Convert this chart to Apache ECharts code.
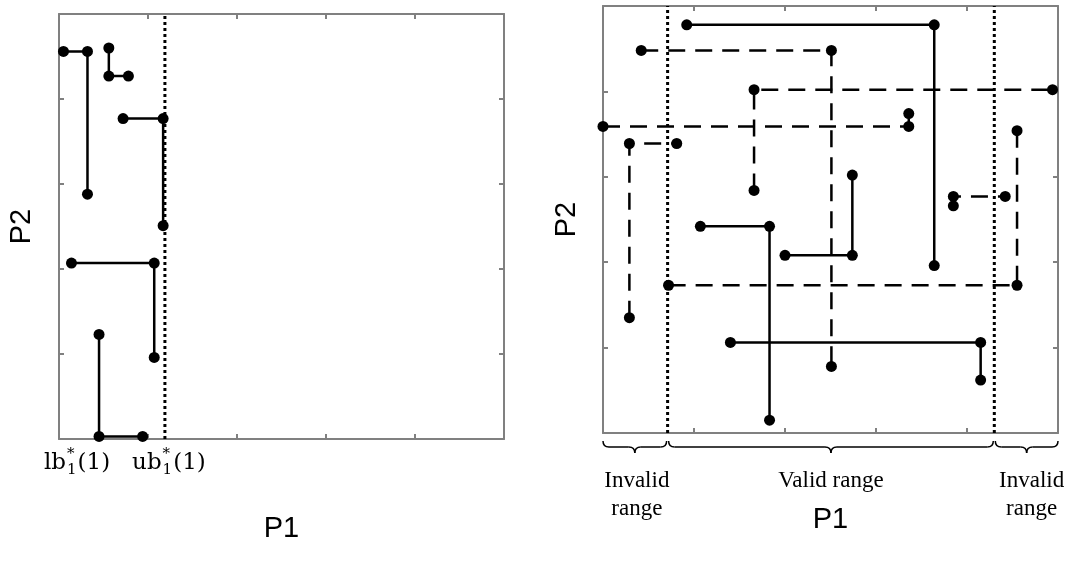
<!DOCTYPE html>
<html>
<head>
<meta charset="utf-8">
<script src="https://cdn.jsdelivr.net/npm/echarts@6/dist/echarts.min.js"></script>
<style>
  html, body { margin: 0; padding: 0; background: #ffffff; }
  #chart { width: 1068px; height: 564px; }
</style>
</head>
<body>
<div id="chart"></div>
<script>
// Both panels share the same normalised P1/P2 range with unit ticks
const axisMin = 0;
const axisMax = 5;
const axisStep = 1;

// Left panel: L-shaped links between points (solid)
const leftPaths = [
  [[0.05, 4.56], [0.32, 4.56], [0.32, 2.88]],
  [[0.56, 4.60], [0.56, 4.27], [0.78, 4.27]],
  [[0.72, 3.77], [1.17, 3.77], [1.17, 2.51]],
  [[0.14, 2.07], [1.07, 2.07], [1.07, 0.96]],
  [[0.45, 1.23], [0.45, 0.03], [0.94, 0.03]]
];
// Upper bound ub*_1(1) on P1 in the left panel
const leftUpperBound = 1.19;

// Right panel: solid L-shaped links
const rightSolidPaths = [
  [[0.92, 4.78], [3.64, 4.78], [3.64, 1.96]],
  [[1.07, 2.42], [1.83, 2.42], [1.83, 0.15]],
  [[2.74, 3.02], [2.74, 2.08], [2.00, 2.08]],
  [[1.40, 1.06], [4.15, 1.06], [4.15, 0.62]]
];
// Right panel: dashed L-shaped links
const rightDashedPaths = [
  [[0.42, 4.48], [2.51, 4.48], [2.51, 0.78]],
  [[1.66, 2.84], [1.66, 4.02], [4.94, 4.02]],
  [[0.00, 3.59], [3.36, 3.59], [3.36, 3.74]],
  [[0.29, 1.35], [0.29, 3.39], [0.81, 3.39]],
  [[4.55, 3.54], [4.55, 1.73], [0.72, 1.73]],
  [[3.85, 2.66], [3.85, 2.77], [4.42, 2.77]]
];
// Lower / upper bounds of the valid P1 range in the right panel
const rightBounds = [0.71, 4.30];

// Text drawn under the axes
const rangeLabels = ['Invalid\nrange', 'Valid range', 'Invalid\nrange'];
const boundPrefixes = ['lb', 'ub'];
const axisNames = { x: 'P1', y: 'P2' };

const GRAY = '#808080';
const SERIF = '"Liberation Serif", "DejaVu Serif", serif';
const MATH = '"DejaVu Serif", "Liberation Serif", serif';
const SANS = '"Liberation Sans", Arial, sans-serif';

const chart = echarts.init(document.getElementById('chart'), null, { renderer: 'canvas' });

function frameAxis(gridIndex, position, withName) {
  const isX = position === 'bottom' || position === 'top';
  const axis = {
    type: 'value',
    gridIndex: gridIndex,
    position: position,
    min: axisMin,
    max: axisMax,
    interval: axisStep,
    axisLine: { show: true, onZero: false, lineStyle: { color: GRAY, width: 2 } },
    axisTick: { show: true, inside: true, length: 5, lineStyle: { color: GRAY, width: 2 } },
    axisLabel: { show: false },
    splitLine: { show: false }
  };
  if (withName) {
    axis.name = isX ? axisNames.x : axisNames.y;
    axis.nameLocation = 'middle';
    axis.nameTextStyle = { fontFamily: SANS, fontSize: 29, color: '#000' };
    if (isX) {
      axis.nameGap = gridIndex === 0 ? 75 : 72;
    } else {
      axis.nameGap = gridIndex === 0 ? 23 : 22;
      axis.nameRotate = 90;
    }
  }
  return axis;
}

function pathSeries(points, gridIndex, dashed) {
  return {
    type: 'line',
    xAxisIndex: gridIndex * 2,
    yAxisIndex: gridIndex * 2,
    data: points,
    clip: false,
    silent: true,
    symbol: 'circle',
    symbolSize: 11,
    showAllSymbol: true,
    itemStyle: { color: '#000' },
    lineStyle: { color: '#000', width: 2.5, type: dashed ? [17, 10] : 'solid' },
    z: 3
  };
}

function boundSeries(x, gridIndex) {
  return {
    type: 'line',
    xAxisIndex: gridIndex * 2,
    yAxisIndex: gridIndex * 2,
    data: [[x, axisMin], [x, axisMax]],
    silent: true,
    symbol: 'none',
    lineStyle: { color: '#000', width: 3, type: [3, 3], cap: 'butt' },
    z: 2
  };
}

const series = [];
leftPaths.forEach(p => series.push(pathSeries(p, 0, false)));
series.push(boundSeries(leftUpperBound, 0));
rightSolidPaths.forEach(p => series.push(pathSeries(p, 1, false)));
rightDashedPaths.forEach(p => series.push(pathSeries(p, 1, true)));
rightBounds.forEach(b => series.push(boundSeries(b, 1)));

chart.setOption({
  animation: false,
  backgroundColor: '#ffffff',
  grid: [
    { left: 59, top: 14, width: 445, height: 425, containLabel: false },
    { left: 603, top: 6, width: 455, height: 427, containLabel: false }
  ],
  xAxis: [
    frameAxis(0, 'bottom', true), frameAxis(0, 'top', false),
    frameAxis(1, 'bottom', true), frameAxis(1, 'top', false)
  ],
  yAxis: [
    frameAxis(0, 'left', true), frameAxis(0, 'right', false),
    frameAxis(1, 'left', true), frameAxis(1, 'right', false)
  ],
  series: series
});

// ---- annotations placed from the axis scales ----
const measureCtx = document.createElement('canvas').getContext('2d');
function textWidth(str, size, family) {
  measureCtx.font = size + 'px ' + family;
  return measureCtx.measureText(str).width;
}
function px(gridIndex, x, y) {
  return chart.convertToPixel({ xAxisIndex: gridIndex * 2, yAxisIndex: gridIndex * 2 }, [x, y]);
}
function textEl(str, x, y, size, align, vAlign, lineHeight, family) {
  const fam = family || SERIF;
  return {
    type: 'text',
    x: x,
    y: y,
    silent: true,
    style: {
      text: str,
      font: size + 'px ' + fam,
      fontFamily: fam,
      fontSize: size,
      fill: '#000',
      align: align, textAlign: align,
      verticalAlign: vAlign, textVerticalAlign: vAlign,
      lineHeight: lineHeight || size
    }
  };
}

// lb*_1(1) / ub*_1(1): "lb" + stacked superscript "*" and subscript "1" + "(1)"
function boundLabel(prefix, cx, cy) {
  const big = 23, small = 15;
  const w1 = textWidth(prefix, big, MATH);
  const ws = textWidth('1', small, MATH);
  const w3 = textWidth('(1)', big, MATH);
  const total = w1 + ws + 2 + w3;
  const x0 = cx - total / 2;
  return [
    textEl(prefix, x0, cy, big, 'left', 'middle', big, MATH),
    textEl('*', x0 + w1 + 1, cy - 9, small, 'left', 'middle', small, MATH),
    textEl('1', x0 + w1 + 1, cy + 7, small, 'left', 'middle', small, MATH),
    textEl('(1)', x0 + w1 + ws + 2, cy, big, 'left', 'middle', big, MATH)
  ];
}

// Curly brace under the axis from xa to xb (pixels)
function brace(xa, xb, yTop) {
  const y0 = yTop, y1 = yTop + 6, y2 = yTop + 12, r = 6;
  const xm = (xa + xb) / 2;
  const st = { stroke: '#000', lineWidth: 1.5, fill: null };
  return [
    { type: 'bezierCurve', silent: true, shape: { x1: xa, y1: y0, x2: xa + r, y2: y1, cpx1: xa, cpy1: y1 }, style: st },
    { type: 'line', silent: true, shape: { x1: xa + r, y1: y1, x2: xm - r, y2: y1 }, style: st },
    { type: 'bezierCurve', silent: true, shape: { x1: xm - r, y1: y1, x2: xm, y2: y2, cpx1: xm, cpy1: y1 }, style: st },
    { type: 'bezierCurve', silent: true, shape: { x1: xm, y1: y2, x2: xm + r, y2: y1, cpx1: xm, cpy1: y1 }, style: st },
    { type: 'line', silent: true, shape: { x1: xm + r, y1: y1, x2: xb - r, y2: y1 }, style: st },
    { type: 'bezierCurve', silent: true, shape: { x1: xb - r, y1: y1, x2: xb, y2: y0, cpx1: xb, cpy1: y1 }, style: st }
  ];
}

const graphics = [];

// Left panel bound labels
const leftBase = px(0, axisMin, axisMin);
const leftUb = px(0, leftUpperBound, axisMin);
graphics.push(...boundLabel(boundPrefixes[0], leftBase[0] + 18, leftBase[1] + 24));
graphics.push(...boundLabel(boundPrefixes[1], leftUb[0] + 4, leftBase[1] + 24));

// Right panel range braces and captions
const edges = [axisMin, rightBounds[0], rightBounds[1], axisMax].map(v => px(1, v, axisMin));
const braceTop = edges[0][1] + 8;
const captionShift = [2, 0, 5];
for (let i = 0; i < 3; i++) {
  const xa = edges[i][0] + (i === 0 ? 0 : 1);
  const xb = edges[i + 1][0] - (i === 2 ? 0 : 1);
  graphics.push(...brace(xa, xb, braceTop));
  graphics.push(textEl(rangeLabels[i], (xa + xb) / 2 + captionShift[i], braceTop + 26, 23, 'center', 'top', 28));
}

chart.setOption({ graphic: graphics });
</script>
</body>
</html>
